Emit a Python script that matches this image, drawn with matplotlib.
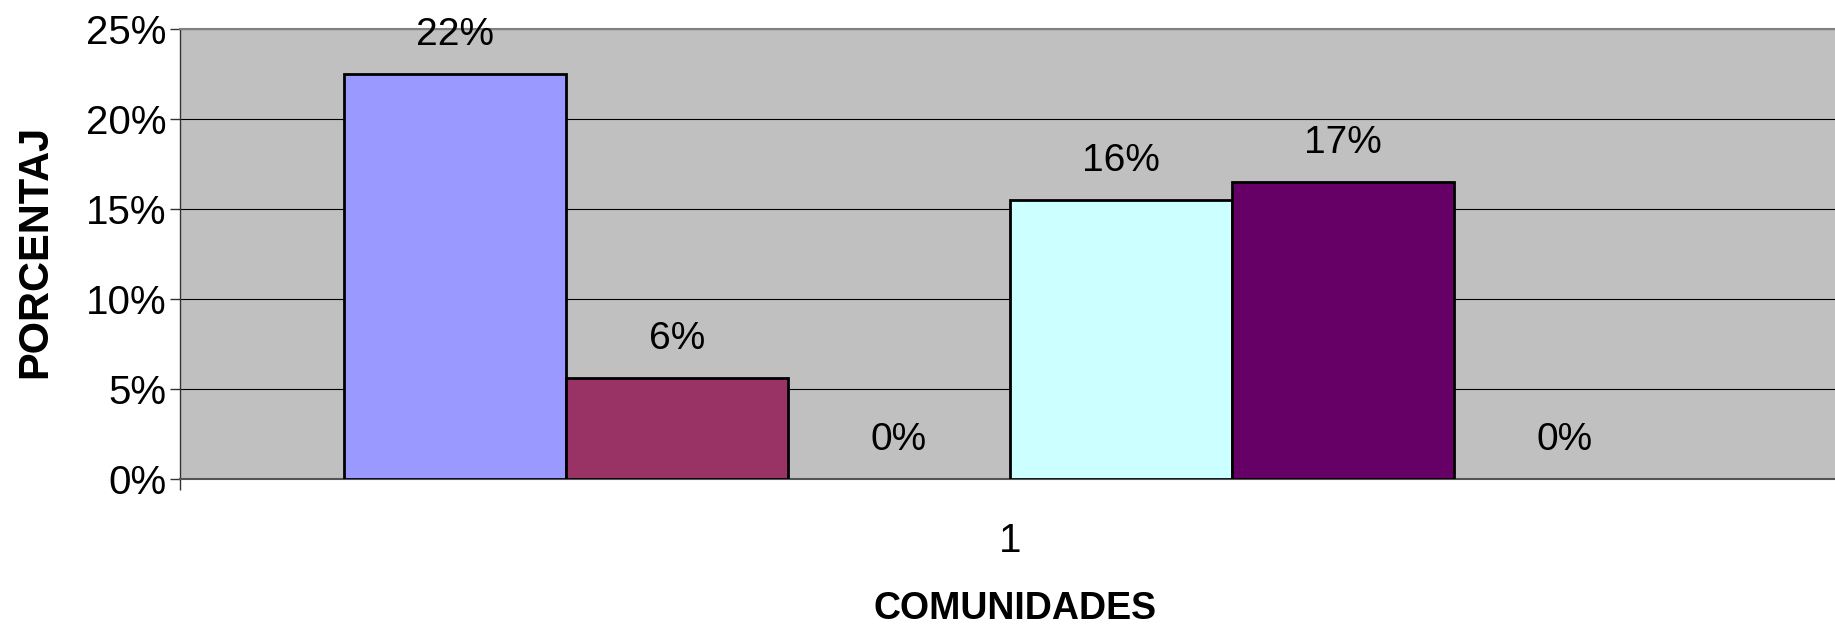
"""Porcentaje por comunidades"""

import matplotlib.pyplot as plt
from matplotlib.ticker import FuncFormatter

plt.rcParams["font.family"] = ["Liberation Sans", "DejaVu Sans"]

# Datos (una sola categoría, seis series)
categoria = "1"
valores = [0.225, 0.056, 0.0, 0.155, 0.165, 0.0]
etiquetas = ["22%", "6%", "0%", "16%", "17%", "0%"]
colores = ["#9999FF", "#993366", "#FFFFCC", "#CCFFFF", "#660066", "#FF8080"]

fig = plt.figure(figsize=(18.35, 6.24), dpi=100)
ax = fig.add_axes([0.0981, 0.2324, 0.9046, 0.7219])
ax.set_facecolor("#C0C0C0")

# Barras agrupadas alrededor de la categoría (las de 0% no se ven)
n = len(valores)
posiciones = [i - (n - 1) / 2 for i in range(n)]
for x, v, c in zip(posiciones, valores, colores):
    ax.bar(x, v, width=1.0, color=c, edgecolor="black",
           linewidth=2 if v > 0 else 0, zorder=3)

# Etiquetas de datos
for x, v, t in zip(posiciones, valores, etiquetas):
    ax.annotate(t, (x, v), xytext=(0, 28), textcoords="offset points",
                ha="center", va="center", fontsize=28, zorder=4)

margen = 164 / 222
ax.set_xlim(posiciones[0] - 0.5 - margen, posiciones[-1] + 0.5 + margen)
ax.set_ylim(0, 0.25)

# Ejes
ax.set_yticks([0, 0.05, 0.10, 0.15, 0.20, 0.25])
ax.yaxis.set_major_formatter(FuncFormatter(lambda y, _: f"{y:.0%}"))
ax.tick_params(axis="y", labelsize=29, length=7, width=1, pad=3, color="#333333")
ax.set_xticks([0])
ax.set_xticklabels([categoria])
ax.tick_params(axis="x", labelsize=29, length=0, pad=31)
ax.set_xticks([ax.get_xlim()[0]], minor=True)
ax.tick_params(axis="x", which="minor", length=8, width=1, color="#333333")

ax.grid(True, axis="y", color="black", linewidth=0.8, zorder=1)
ax.set_axisbelow(True)

for lado in ["top", "right"]:
    ax.spines[lado].set_color("#808080")
    ax.spines[lado].set_linewidth(1.5)
ax.spines["left"].set_color("#333333")
ax.spines["left"].set_linewidth(1)
ax.spines["bottom"].set_color("#555555")
ax.spines["bottom"].set_linewidth(1.5)

# Títulos de los ejes
fig.text(35 / 1835, 1 - 251 / 624, "PORCENTAJ", rotation=90, ha="center",
         va="center", fontsize=30, fontweight="bold")
fig.text(1015 / 1835, 1 - 609 / 624, "COMUNIDADES", ha="center", va="center",
         fontsize=27, fontweight="bold")

fig.savefig("out.png", dpi=100)
